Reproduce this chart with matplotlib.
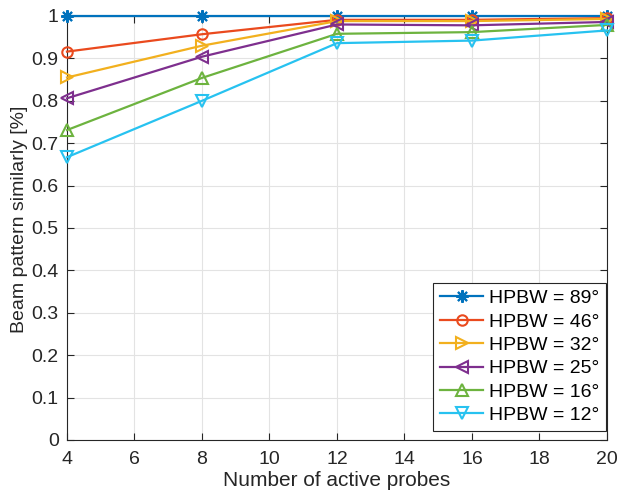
import matplotlib.pyplot as plt

plt.rcParams['font.family'] = ['Liberation Sans', 'DejaVu Sans']

probes = [4, 8, 12, 16, 20]
hpbw_labels = ['HPBW = 89°', 'HPBW = 46°', 'HPBW = 32°', 'HPBW = 25°', 'HPBW = 16°', 'HPBW = 12°']
sim_89 = [1.0, 1.0, 1.0, 1.0, 1.0]
sim_46 = [0.916, 0.957, 0.991, 0.991, 0.995]
sim_32 = [0.855, 0.930, 0.988, 0.988, 0.993]
sim_25 = [0.806, 0.904, 0.980, 0.978, 0.986]
sim_16 = [0.731, 0.854, 0.958, 0.962, 0.979]
sim_12 = [0.667, 0.800, 0.936, 0.942, 0.966]

series = [sim_89, sim_46, sim_32, sim_25, sim_16, sim_12]
colors = ['#0072BD', '#EA4A1E', '#F2B01E', '#7E2F8E', '#6DB33F', '#27C2F0']
markers = [(8, 2, 0), 'o', '>', '<', '^', 'v']
msizes = [9, 7.5, 9, 9, 9, 9]

fig = plt.figure(figsize=(6.18, 5), dpi=100)
ax = fig.add_axes([0.1084, 0.12, 0.8738, 0.848])

for vals, lab, c, m, ms in zip(series, hpbw_labels, colors, markers, msizes):
    ax.plot(probes, vals, color=c, marker=m, markersize=ms,
            markerfacecolor='none', markeredgewidth=1.5,
            linewidth=1.6, label=lab, clip_on=False, zorder=3)

ax.set_xlim(4, 20)
ax.set_ylim(0, 1)
ax.set_xticks(range(4, 21, 2))
ax.set_yticks([i / 10 for i in range(11)])
ax.set_yticklabels(['0', '0.1', '0.2', '0.3', '0.4', '0.5', '0.6', '0.7', '0.8', '0.9', '1'])
ax.grid(True, color='#E3E3E3', linewidth=0.8)
ax.set_axisbelow(True)
ax.tick_params(direction='in', labelsize=14, colors='#262626', length=5,
               top=True, right=True, pad=6)
ax.tick_params(axis='x', pad=8)
for s in ax.spines.values():
    s.set_color('#262626')
    s.set_linewidth(0.8)

ax.set_xlabel('Number of active probes', fontsize=15, color='#262626', labelpad=2)
ax.set_ylabel('Beam pattern similarly [%]', fontsize=14, color='#262626')
ax.yaxis.set_label_coords(-0.072, 0.52)

leg = ax.legend(loc='lower right', bbox_to_anchor=(0.998, 0.021), borderaxespad=0,
                fontsize=14, fancybox=False, edgecolor='#262626', framealpha=1,
                handlelength=2.2, handletextpad=0.3, borderpad=0.35, labelspacing=0.3)
leg.get_frame().set_linewidth(0.8)
leg.set_zorder(5)

fig.savefig('out.png', dpi=100)
